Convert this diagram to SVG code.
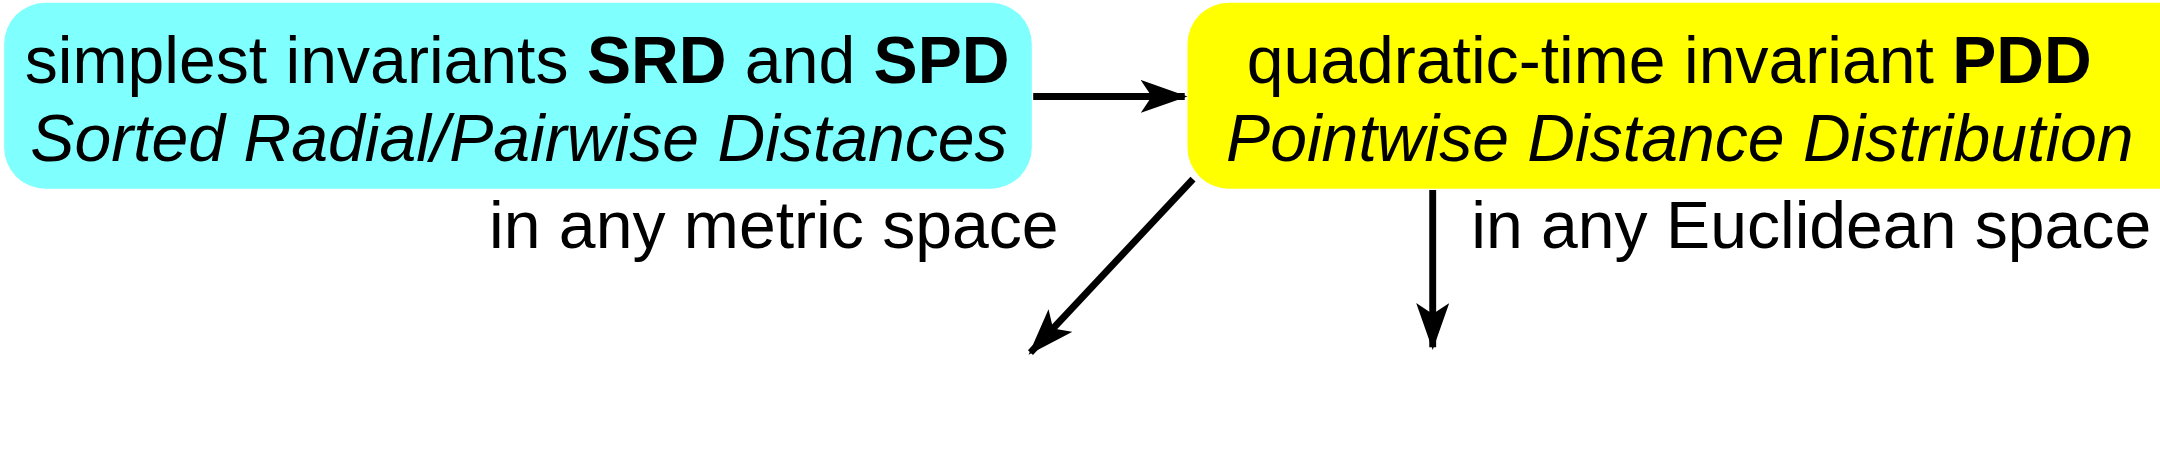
<svg xmlns="http://www.w3.org/2000/svg" width="2160" height="471" viewBox="0 0 2160 471">
<style>
text{font-family:"Liberation Sans",Arial,sans-serif;font-size:48px;fill:#000}
.i{font-style:italic}
.b{font-weight:bold}
.c{stroke:#000;stroke-width:5;fill:none}
</style>
<defs>
<marker id="a" markerUnits="userSpaceOnUse" markerWidth="36" markerHeight="24" refX="32" refY="12" orient="auto">
<path d="M0,0 L34,12 L0,24 L8,12 z" fill="#000"/>
</marker>
</defs>
<rect width="2160" height="471" fill="#fff"/>
<g transform="scale(1.3776)">
<g id="n1"><rect x="3" y="2" width="746" height="135" rx="30" fill="#80FFFF"/>
<text x="18" y="60">simplest invariants <tspan class="b">SRD</tspan> and <tspan class="b">SPD</tspan></text>
<text class="i" x="22" y="117">Sorted Radial/Pairwise Distances</text></g>
<g id="n2"><rect x="862" y="2" width="1296" height="135" rx="30" fill="#FFFF00"/>
<text x="905" y="60">quadratic-time invariant <tspan class="b">PDD</tspan></text>
<text class="i" x="890" y="117">Pointwise Distance Distribution</text></g>
<g id="n3"><rect x="2" y="345" width="749" height="124" rx="30" fill="#FFBF80"/>
<text x="30" y="404">stronger isometry invariant <tspan class="b">SDD</tspan></text>
<text class="i" x="16" y="460">Simplexwise Distance Distribution</text></g>
<g id="n4"><rect x="1027" y="345" width="1130" height="124" rx="30" fill="#00FF00"/>
<text x="1053" y="404">complete isometry invariant <tspan class="b">SCD</tspan></text>
<text class="i" x="1045" y="460">Simplexwise Centered Distribution</text></g>
<g id="connectors">
<line class="c" x1="750" y1="70" x2="860" y2="70" marker-end="url(#a)"/>
<line class="c" x1="866" y1="129" x2="748" y2="209" marker-end="url(#a)" style="display:none"/>
<line class="c" x1="866" y1="129" x2="748" y2="380" marker-end="url(#a)" style="display:none"/>
<line class="c" x1="866" y1="130" x2="748" y2="212" marker-end="url(#a)" style="display:none"/>
<line class="c" x1="866" y1="130" x2="748" y2="256" marker-end="url(#a)"/>
<line class="c" x1="1040" y1="138" x2="1040" y2="252" marker-end="url(#a)"/>
</g>
<text x="355" y="180">in any metric space</text>
<text x="1068" y="180">in any Euclidean space</text>
</g>
</svg>
